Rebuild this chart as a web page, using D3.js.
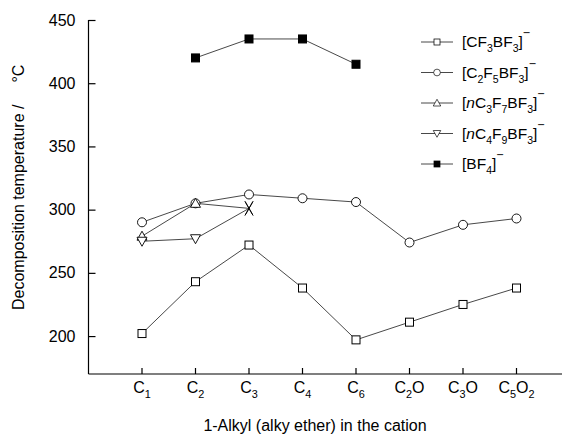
<!DOCTYPE html>
<html>
<head>
<meta charset="utf-8">
<script src="https://d3js.org/d3.v7.min.js"></script>
<style>
  body { margin: 0; background: #fff; }
  text { font-family: "Liberation Sans", Arial, sans-serif; fill: #000; }
</style>
</head>
<body>
<div id="chart"></div>
<script>
// categories (main text + subscript parts)
const categories = [
  [["C", ""], ["1", "sub"]],
  [["C", ""], ["2", "sub"]],
  [["C", ""], ["3", "sub"]],
  [["C", ""], ["4", "sub"]],
  [["C", ""], ["6", "sub"]],
  [["C", ""], ["2", "sub"], ["O", ""]],
  [["C", ""], ["3", "sub"], ["O", ""]],
  [["C", ""], ["5", "sub"], ["O", ""], ["2", "sub"]]
];
const yTicks = [200, 250, 300, 350, 400, 450];

// series values, null = no measurement
const cf3bf3 = [202, 243, 272, 238, 197, 211, 225, 238];
const c2f5bf3 = [290, 305, 312, 309, 306, 274, 288, 293];
const nc3f7bf3 = [279, 305, 301, null, null, null, null, null];
const nc4f9bf3 = [275, 277, 301, null, null, null, null, null];
const bf4 = [null, 420, 435, 435, 415, null, null, null];

const seriesNames = [
  [["[CF", ""], ["3", "sub"], ["BF", ""], ["3", "sub"], ["]", ""], ["\u2212", "sup"]],
  [["[C", ""], ["2", "sub"], ["F", ""], ["5", "sub"], ["BF", ""], ["3", "sub"], ["]", ""], ["\u2212", "sup"]],
  [["[", ""], ["n", "it"], ["C", ""], ["3", "sub"], ["F", ""], ["7", "sub"], ["BF", ""], ["3", "sub"], ["]", ""], ["\u2212", "sup"]],
  [["[", ""], ["n", "it"], ["C", ""], ["4", "sub"], ["F", ""], ["9", "sub"], ["BF", ""], ["3", "sub"], ["]", ""], ["\u2212", "sup"]],
  [["[BF", ""], ["4", "sub"], ["]", ""], ["\u2212", "sup"]]
];

const series = [
  { values: cf3bf3, marker: "square" },
  { values: c2f5bf3, marker: "circle" },
  { values: nc3f7bf3, marker: "up", last: "cross" },
  { values: nc4f9bf3, marker: "down", last: "cross" },
  { values: bf4, marker: "filled" }
];

const width = 562, height = 434;
const svg = d3.select("#chart").append("svg")
  .attr("width", width).attr("height", height);

const x = d3.scaleLinear().domain([-1, 7]).range([88.5, 516.5]);
const y = d3.scaleLinear().domain([170, 450]).range([374, 20]);

// axes
const yAxis = svg.append("g")
  .attr("transform", `translate(${x(-1)},0)`)
  .call(d3.axisLeft(y).tickValues(yTicks).tickSize(-7).tickPadding(13));
yAxis.select(".domain").remove();
yAxis.append("line").attr("x1", 0).attr("x2", 0).attr("y1", y(450)).attr("y2", y(170))
  .attr("stroke", "#000").attr("stroke-width", 1.2);
yAxis.selectAll(".tick line").attr("stroke-width", 1.2);
yAxis.selectAll(".tick text").attr("font-size", 16).attr("font-family", "Liberation Sans, Arial, sans-serif");

const xg = svg.append("g").attr("transform", `translate(0,${y(170)})`);
xg.append("line").attr("x1", x(-1)).attr("x2", width).attr("stroke", "#000").attr("stroke-width", 1.2);

function markup(t, parts, size) {
  let shift = 0;
  parts.forEach(p => {
    const ts = t.append("tspan").text(p[0]);
    let target = 0;
    if (p[1] == "sub") { ts.attr("font-size", size * 0.68); target = 5; }
    else if (p[1] == "sup") { ts.attr("font-size", size * 0.8); target = -10; }
    else if (p[1] == "it") ts.attr("font-style", "italic");
    if (target != shift) { ts.attr("dy", target - shift); shift = target; }
  });
}

categories.forEach((c, i) => {
  xg.append("line").attr("x1", x(i)).attr("x2", x(i)).attr("y1", 0).attr("y2", -6)
    .attr("stroke", "#000").attr("stroke-width", 1.2);
  const t = xg.append("text").attr("x", x(i)).attr("y", 19)
    .attr("text-anchor", "middle").attr("font-size", 16);
  markup(t, c, 16);
});

// axis titles
svg.append("text").attr("x", 315).attr("y", 431).attr("text-anchor", "middle")
  .attr("font-size", 16).text("1-Alkyl (alky ether) in the cation");
const yl = svg.append("text").attr("transform", "translate(24,310) rotate(-90)")
  .attr("font-size", 16);
yl.append("tspan").text("Decomposition temperature /");
yl.append("tspan").attr("dx", 22).text("\u00B0C");

// marker drawing
function drawMarker(g, type, cx, cy) {
  const s = 4;
  if (type == "square" || type == "filled") {
    g.append("rect").attr("x", cx - s).attr("y", cy - s).attr("width", 2 * s).attr("height", 2 * s)
      .attr("fill", type == "filled" ? "#000" : "#fff").attr("stroke", "#000").attr("stroke-width", 1);
  } else if (type == "circle") {
    g.append("circle").attr("cx", cx).attr("cy", cy).attr("r", 4.5)
      .attr("fill", "#fff").attr("stroke", "#000").attr("stroke-width", 0.9);
  } else if (type == "up") {
    g.append("path").attr("d", `M${cx},${cy - 5}L${cx + 5},${cy + 4}L${cx - 5},${cy + 4}Z`)
      .attr("fill", "#fff").attr("stroke", "#000").attr("stroke-width", 0.9);
  } else if (type == "down") {
    g.append("path").attr("d", `M${cx},${cy + 5}L${cx + 5},${cy - 4}L${cx - 5},${cy - 4}Z`)
      .attr("fill", "#fff").attr("stroke", "#000").attr("stroke-width", 0.9);
  } else if (type == "cross") {
    g.append("path").attr("d", `M${cx - 4},${cy - 7}L${cx + 4},${cy + 7}M${cx + 4},${cy - 7}L${cx - 4},${cy + 7}`)
      .attr("stroke", "#000").attr("stroke-width", 0.9);
  }
}

const line = d3.line().defined(d => d.v != null).x(d => x(d.i)).y(d => y(d.v));
const plot = svg.append("g");
series.forEach(s => {
  const pts = s.values.map((v, i) => ({ i: i, v: v }));
  plot.append("path").datum(pts).attr("d", line)
    .attr("fill", "none").attr("stroke", "#333").attr("stroke-width", 0.9);
});
series.forEach(s => {
  const pts = s.values.map((v, i) => ({ i: i, v: v })).filter(d => d.v != null);
  pts.forEach((d, k) => {
    const type = (s.last && k == pts.length - 1) ? s.last : s.marker;
    drawMarker(plot, type, x(d.i), y(d.v));
  });
});

// legend
const legend = svg.append("g");
series.forEach((s, k) => {
  const ly = 42 + k * 30.5;
  legend.append("line").attr("x1", 421).attr("x2", 453).attr("y1", ly).attr("y2", ly)
    .attr("stroke", "#333").attr("stroke-width", 0.9);
  const g = legend.append("g").attr("transform", `translate(437,${ly}) scale(0.75) translate(-437,${-ly})`);
  drawMarker(g, s.marker, 437, ly);
  const t = legend.append("text").attr("x", 462).attr("y", ly + 5).attr("font-size", 15.5);
  markup(t, seriesNames[k], 15.5);
});
</script>
</body>
</html>
